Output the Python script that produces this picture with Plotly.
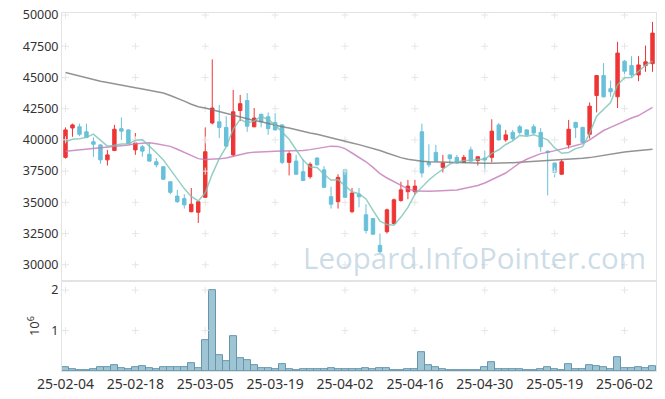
import plotly.graph_objects as go
from plotly.subplots import make_subplots
import pandas as pd

dates = ["2025-02-04","2025-02-05","2025-02-06","2025-02-07","2025-02-10","2025-02-11","2025-02-12","2025-02-13","2025-02-14",
         "2025-02-17","2025-02-18","2025-02-19","2025-02-20","2025-02-21","2025-02-24","2025-02-25","2025-02-26","2025-02-27",
         "2025-02-28","2025-03-04","2025-03-05","2025-03-06","2025-03-07","2025-03-10","2025-03-11","2025-03-12","2025-03-13",
         "2025-03-14","2025-03-17","2025-03-18","2025-03-19","2025-03-20","2025-03-21","2025-03-24","2025-03-25","2025-03-26",
         "2025-03-27","2025-03-28","2025-03-31","2025-04-01","2025-04-02","2025-04-03","2025-04-04","2025-04-07","2025-04-08",
         "2025-04-09","2025-04-10","2025-04-11","2025-04-14","2025-04-15","2025-04-16","2025-04-17","2025-04-18","2025-04-21",
         "2025-04-22","2025-04-23","2025-04-24","2025-04-25","2025-04-28","2025-04-29","2025-04-30","2025-05-02","2025-05-07",
         "2025-05-08","2025-05-09","2025-05-12","2025-05-13","2025-05-14","2025-05-15","2025-05-16","2025-05-19","2025-05-20",
         "2025-05-21","2025-05-22","2025-05-23","2025-05-26","2025-05-27","2025-05-28","2025-05-29","2025-05-30","2025-06-02",
         "2025-06-04","2025-06-05","2025-06-09","2025-06-10"]

opens = [38600,40950,41050,40650,39850,39600,38400,39150,40900,40800,39200,39450,38850,38250,37850,36650,35500,35300,34250,34200,
         35400,41350,41450,41000,38800,42350,43150,41050,42050,41850,41400,41200,38200,38300,37450,37050,38550,37600,35450,35050,
         37600,34250,35650,34000,33700,31550,32650,33300,35150,35850,35850,40650,38200,39000,37800,38800,38600,38200,39200,38350,
         38550,38600,41200,40000,40600,41050,40800,41050,40600,39100,38150,37250,39600,41400,41000,40450,43550,45150,44100,43450,
         46300,45950,45200,45950,46100]
highs = [41000,41300,41300,41300,40200,39650,39200,41200,41800,40850,40550,39600,39750,38550,37900,36650,36000,35650,36150,35100,
         41000,46450,42800,41900,44000,43600,43750,42550,42100,42200,42150,41250,39100,38800,38450,38200,38600,37900,36250,37250,
         37600,36150,36150,34850,33750,32500,34500,35300,36650,36800,36800,41300,39650,39600,38800,38800,38800,38800,39450,38650,
         39150,41650,41350,40800,40800,41200,40850,41250,40950,39150,38150,38450,41600,41450,41050,43000,45200,46150,44750,47850,
         46400,46700,46700,47550,49450]
lows = [38500,40250,40300,40150,38650,38100,37950,39100,40000,39650,38800,38650,38250,37800,36800,35650,34950,34500,34200,33350,
        35350,41250,40150,39450,38650,41500,40650,41000,41000,40400,40750,38050,37150,37200,36700,36900,37950,36150,34500,34500,
        35350,34150,34600,32500,32400,30900,32500,33250,35050,35250,35600,37000,37800,38300,37400,38100,38100,38150,38250,37950,
        37550,38200,39950,39850,39900,40450,40250,40450,39050,35550,37000,37200,39300,40150,39750,40100,42200,43400,43450,42550,
        45000,45000,44700,45450,45450]
closes = [40800,41200,40450,40200,39650,38400,38800,40850,40700,39700,39750,39100,38300,38000,36850,35800,35050,34800,34850,35050,
          39050,42550,41000,39500,42250,42900,41100,41750,41450,40900,40800,38200,38900,37250,36750,38050,38000,36200,34850,37000,
          35400,35750,35450,32750,32450,31050,34400,35200,36000,36300,36300,37350,38000,38300,38150,38500,38150,38600,38300,38650,
          38400,40700,40000,40400,40100,40600,40400,40550,39450,39000,37400,38250,40850,41000,39800,42700,45150,43450,43850,46950,
          45500,45200,46000,46250,48550]
volumes = [90000,41000,16000,16000,41000,90000,90000,140000,66000,41000,90000,115000,66000,41000,90000,90000,90000,90000,190000,66000,
           757000,1992000,387000,239000,856000,313000,263000,140000,66000,66000,41000,165000,41000,16000,41000,41000,41000,41000,66000,41000,
           41000,41000,41000,82000,41000,66000,66000,16000,16000,41000,41000,461000,140000,90000,41000,16000,16000,16000,16000,16000,
           90000,214000,41000,41000,41000,41000,16000,16000,41000,90000,41000,16000,165000,41000,41000,140000,115000,90000,41000,337000,
           66000,66000,90000,66000,115000]

# first four 5-day averages (they need closes before the window)
ma5_head = [39850, 40050, 40100, 40200]
ma20 = [39100,39150,39200,39250,39300,39350,39400,39450,39500,39600,39700,39750,39780,39700,39600,39480,39250,39000,38750,38500,
        38420,38430,38480,38550,38680,38850,38950,39020,39060,39080,39100,39110,39120,39130,39150,39220,39330,39420,39500,39480,
        39300,38950,38600,38250,37800,37300,36950,36650,36350,36080,35900,35860,35880,35900,35920,35940,35980,36100,36220,36350,
        36550,36800,37050,37350,37750,38150,38450,38700,38900,39000,39120,39250,39400,39550,39700,40000,40400,40750,41000,41250,
        41550,41750,41950,42250,42600]
ma120 = [45400,45250,45100,44950,44820,44700,44600,44480,44380,44280,44180,44080,43980,43870,43750,43550,43350,43100,42850,42650,
         42550,42400,42250,42100,41950,41850,41700,41550,41450,41300,41200,41050,40950,40800,40700,40550,40450,40300,40150,40000,
         39900,39750,39620,39480,39330,39150,38950,38750,38580,38450,38350,38290,38250,38230,38220,38210,38190,38170,38150,38140,
         38130,38130,38130,38150,38170,38200,38230,38260,38290,38320,38350,38380,38420,38460,38520,38580,38680,38780,38880,38960,
         39030,39090,39140,39200,39250]

price_ticks = [30000, 32500, 35000, 37500, 40000, 42500, 45000, 47500, 50000]
vol_ticks = [1000000, 2000000]
vol_ticktext = ["1", "2"]
tick_dates = dates[::10]
tick_labels = [d[2:] for d in tick_dates]

ma5 = ma5_head + list(pd.Series(closes).rolling(5).mean().dropna().round(1))[:len(dates) - 4]

fig = make_subplots(rows=2, cols=1, shared_xaxes=True, vertical_spacing=0, row_heights=[0.749, 0.251])

fig.add_trace(go.Candlestick(x=dates, open=opens, high=highs, low=lows, close=closes,
                             increasing=dict(line=dict(color="#ee3535", width=1), fillcolor="#ee3535"),
                             decreasing=dict(line=dict(color="#68c0da", width=1), fillcolor="#68c0da"),
                             whiskerwidth=0, hoverinfo="skip"), row=1, col=1)
fig.add_trace(go.Bar(x=dates, y=volumes, marker=dict(color="rgba(135,182,203,0.8)",
                                                    line=dict(color="#6497ae", width=1))), row=2, col=1)

grid_c = "#e6e6e6"
fig.add_trace(go.Scatter(x=[d for d in tick_dates for _ in price_ticks],
                         y=[p for _ in tick_dates for p in price_ticks],
                         mode="markers", hoverinfo="skip",
                         marker=dict(symbol="cross-thin", size=5, line=dict(color=grid_c, width=1))), row=1, col=1)
fig.add_trace(go.Scatter(x=[d for d in tick_dates for _ in vol_ticks],
                         y=[p for _ in tick_dates for p in vol_ticks],
                         mode="markers", hoverinfo="skip",
                         marker=dict(symbol="cross-thin", size=5, line=dict(color=grid_c, width=1))), row=2, col=1)

fig.add_trace(go.Scatter(x=dates, y=ma120, mode="lines", line=dict(color="rgba(120,120,120,0.8)", width=1.5)), row=1, col=1)
fig.add_trace(go.Scatter(x=dates, y=ma20, mode="lines", line=dict(color="rgba(195,120,185,0.8)", width=1.5)), row=1, col=1)
fig.add_trace(go.Scatter(x=dates, y=ma5, mode="lines", line=dict(color="rgba(120,195,180,0.8)", width=1.5)), row=1, col=1)

fig.add_annotation(text="Leopard.InfoPointer.com", xref="paper", yref="paper", x=0.695, y=0.318,
                   xanchor="center", yanchor="middle",
                   showarrow=False, font=dict(family="Open Sans", size=29.5, color="rgba(170,198,215,0.6)"))

axis_line = "#e3e3e3"
tickfont = dict(family="Noto Sans", size=12.5, color="#333333")
fig.update_xaxes(type="category", categoryorder="array", categoryarray=dates, automargin=False,
                 showgrid=False, zeroline=False, showline=True, mirror=True,
                 linecolor=axis_line, tickvals=tick_dates, ticktext=tick_labels, tickangle=0,
                 tickfont=dict(family="Noto Sans", size=14, color="#333333"),
                 rangeslider=dict(visible=False), range=[-0.5, len(dates) - 0.5])
fig.update_yaxes(showgrid=False, zeroline=False, showline=True, mirror=True, linecolor=axis_line,
                 tickfont=tickfont, automargin=False)
fig.update_yaxes(range=[28690, 50160], tickvals=price_ticks, tickformat="d", row=1, col=1)
fig.update_yaxes(range=[0, 2222000], tickvals=vol_ticks, ticktext=vol_ticktext,
                 title=dict(text="10<sup>6</sup>", font=dict(family="Noto Sans", size=13, color="#333333"), standoff=8),
                 row=2, col=1)

fig.update_layout(width=665, height=399, margin=dict(l=62, r=9, t=13, b=28),
                  paper_bgcolor="white", plot_bgcolor="white", showlegend=False,
                  bargap=0, boxgap=0.3)

fig.write_html("out.html", config={"displayModeBar": False},
               post_script="document.body.style.margin='0';document.body.style.overflow='hidden';")
